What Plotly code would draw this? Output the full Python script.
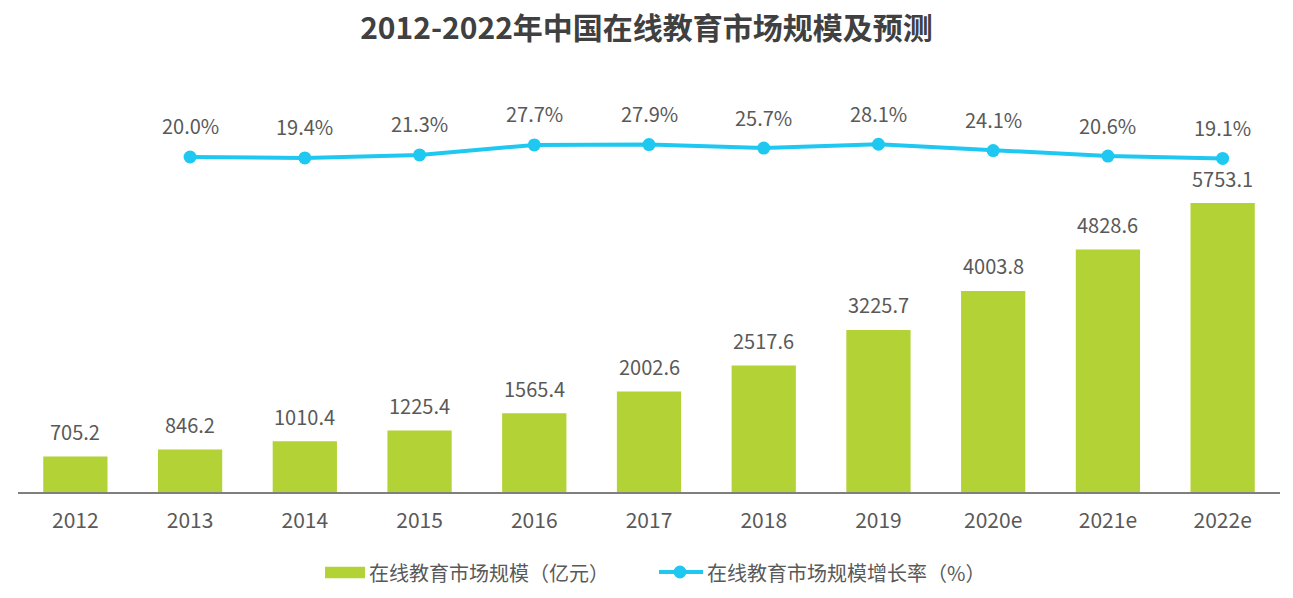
import plotly.graph_objs as go

# Data
years = ['2012', '2013', '2014', '2015', '2016', '2017', '2018', '2019', '2020e', '2021e', '2022e']
market_size = [705.2, 846.2, 1010.4, 1225.4, 1565.4, 2002.6, 2517.6, 3225.7, 4003.8, 4828.6, 5753.1]
growth_rate = [None, 20.0, 19.4, 21.3, 27.7, 27.9, 25.7, 28.1, 24.1, 20.6, 19.1]
size_name = '在线教育市场规模（亿元）'
rate_name = '在线教育市场规模增长率（%）'

FONT = 'Noto Sans CJK SC, Microsoft YaHei, sans-serif'
TEXT_COLOR = '#595959'
BAR_COLOR = '#b2d235'
LINE_COLOR = '#1ec8f0'

fig = go.Figure()

""" Bars """
fig.add_trace(go.Bar(
    x=years,
    y=market_size,
    name=size_name,
    marker={'color': BAR_COLOR, 'line': {'width': 0}},
    width=0.56,
    yaxis='y',
    showlegend=False,
))

""" Line """
fig.add_trace(go.Scatter(
    x=years,
    y=growth_rate,
    name=rate_name,
    mode='lines+markers',
    line={'color': LINE_COLOR, 'width': 4},
    marker={'color': LINE_COLOR, 'size': 13},
    yaxis='y2',
    showlegend=False,
))

# value labels (category index as x so '2012' isn't read as a number)
for i, v in enumerate(market_size):
    fig.add_annotation(
        x=i, y=v, yref='y', text=f'{v:.1f}', showarrow=False,
        yshift=25, font={'size': 20, 'color': TEXT_COLOR, 'family': FONT},
    )

for i, v in enumerate(growth_rate):
    if v is None:
        continue
    fig.add_annotation(
        x=i, y=v, yref='y2', text=f'{v:.1f}%', showarrow=False,
        yshift=31, font={'size': 20, 'color': TEXT_COLOR, 'family': FONT},
    )

""" Legend (drawn by hand: wide bar swatch like the original) """
# plot area is 1262 x 392 px, positions below are in paper units
fig.add_shape(type='rect', xref='paper', yref='paper',
              x0=0.2433, x1=0.2750, y0=-0.1906, y1=-0.2202,
              fillcolor=BAR_COLOR, line={'width': 0})
fig.add_annotation(xref='paper', yref='paper', x=0.2765, y=-0.2066,
                   xanchor='left', yanchor='middle', showarrow=False,
                   text=size_name, font={'size': 20, 'color': TEXT_COLOR, 'family': FONT})
fig.add_shape(type='line', xref='paper', yref='paper',
              x0=0.5079, x1=0.5428, y0=-0.204, y1=-0.204,
              line={'color': LINE_COLOR, 'width': 4})
fig.add_shape(type='circle', xref='paper', yref='paper',
              x0=0.5194, x1=0.5297, y0=-0.1875, y1=-0.2207,
              fillcolor=LINE_COLOR, line={'width': 0})
fig.add_annotation(xref='paper', yref='paper', x=0.5440, y=-0.2066,
                   xanchor='left', yanchor='middle', showarrow=False,
                   text=rate_name, font={'size': 20, 'color': TEXT_COLOR, 'family': FONT})

# page body adds an 8px offset, so the figure is a bit smaller than the window
fig.update_layout(
    width=1277,
    height=582,
    margin={'l': 10, 'r': 5, 't': 92, 'b': 98},
    plot_bgcolor='white',
    paper_bgcolor='white',
    font={'family': FONT, 'color': TEXT_COLOR, 'size': 20},
    title={
        'text': '<b>2012-2022年中国在线教育市场规模及预测</b>',
        'x': 0.5,
        'xanchor': 'center',
        'y': 0.9656,
        'yanchor': 'middle',
        'font': {'size': 30, 'color': '#404040', 'family': FONT},
    },
    showlegend=False,
    xaxis={
        'type': 'category',
        'range': [-0.5, 10.5],
        'showline': True,
        'linecolor': '#7f7f7f',
        'linewidth': 2,
        'showgrid': False,
        'ticks': '',
        'ticklabelstandoff': 9,
        'tickfont': {'size': 21, 'color': TEXT_COLOR},
    },
    yaxis={
        'range': [0, 7804],
        'visible': False,
        'showgrid': False,
        'zeroline': False,
    },
    yaxis2={
        'range': [-193.4, 56.3],
        'overlaying': 'y',
        'visible': False,
        'showgrid': False,
        'zeroline': False,
    },
)

fig.write_html('out.html')
